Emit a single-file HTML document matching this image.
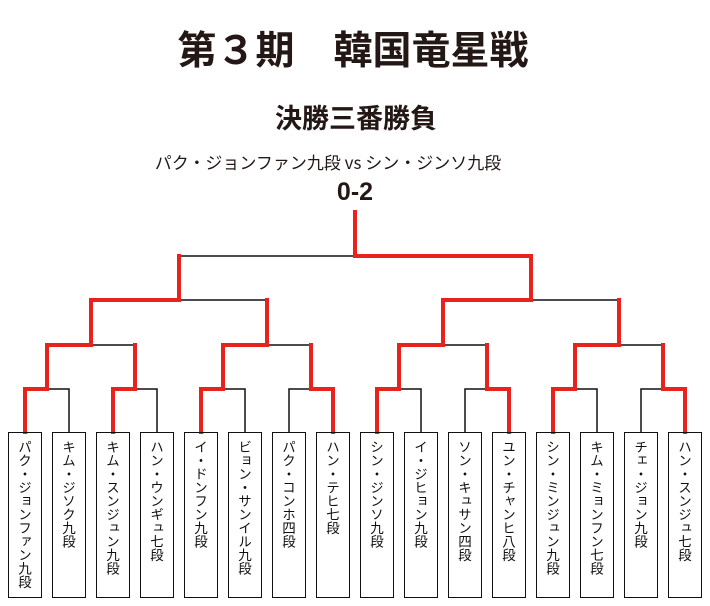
<!DOCTYPE html>
<html><head><meta charset="utf-8"><style>
html,body{margin:0;padding:0;background:#fff;}
body{width:710px;height:606px;position:relative;overflow:hidden;font-family:"Liberation Sans","Noto Sans CJK JP",sans-serif;color:#231815;}
.t{position:absolute;left:0;width:710px;text-align:center;white-space:nowrap;}
.box{position:absolute;top:432px;width:32px;height:164px;border:1.5px solid #111;box-sizing:content-box;}
.box span{position:absolute;top:7px;left:50%;transform:translateX(-50%);writing-mode:vertical-rl;font-size:13.5px;line-height:16px;color:#111;font-family:"Noto Sans CJK JP",sans-serif;}
svg{position:absolute;left:0;top:0;}
</style></head><body>
<div class="t" style="top:22px;font-size:39px;font-weight:bold;left:-2px;font-family:'Noto Sans CJK JP',sans-serif;line-height:52px;">第３期　韓国竜星戦</div>
<div class="t" style="top:99px;font-size:27px;font-weight:bold;left:1px;font-family:'Noto Sans CJK JP',sans-serif;line-height:36px;">決勝三番勝負</div>
<div class="t" style="top:150px;font-size:17px;left:-27px;font-family:'Noto Sans CJK JP',sans-serif;line-height:24px;">パク・ジョンファン九段 vs シン・ジンソ九段</div>
<div class="t" style="top:177px;font-size:25px;font-weight:bold;left:0px;line-height:30px;">0-2</div>
<svg width="710" height="606" viewBox="0 0 710 606">
<g stroke="#111" stroke-width="1.5" fill="none">
<path d="M25 432V389H69V432M113 432V389H157V432M201 432V389H245V432M289 432V389H333V432M377 432V389H421V432M465 432V389H509V432M553 432V389H597V432M641 432V389H685V432"/>
<path d="M47 389V345H135V389M223 389V345H311V389M399 389V345H487V389M575 389V345H663V389"/>
<path d="M91 345V300H267V345M443 345V300H619V345"/>
<path d="M179 300V256H531V300"/>
</g>
<g stroke="#e8221c" stroke-width="4" fill="none" stroke-linecap="square" stroke-linejoin="miter">
<path d="M25 432V389H47M113 432V389H135M201 432V389H223M333 432V389H311M377 432V389H399M509 432V389H487M553 432V389H575M685 432V389H663"/>
<path d="M47 389V345H91M135 389V345M223 389V345H267M311 389V345M399 389V345H443M487 389V345M575 389V345H619M663 389V345"/>
<path d="M91 345V300H179M267 345V300M443 345V300H531M619 345V300"/>
<path d="M179 300V256M531 300V256H355V212"/>
</g>
</svg>
<div class="box" style="left:8px"><span>パク・ジョンファン九段</span></div>
<div class="box" style="left:52px"><span>キム・ジソク九段</span></div>
<div class="box" style="left:96px"><span>キム・スンジュン九段</span></div>
<div class="box" style="left:140px"><span>ハン・ウンギュ七段</span></div>
<div class="box" style="left:184px"><span>イ・ドンフン九段</span></div>
<div class="box" style="left:228px"><span>ビョン・サンイル九段</span></div>
<div class="box" style="left:272px"><span>パク・コンホ四段</span></div>
<div class="box" style="left:316px"><span>ハン・テヒ七段</span></div>
<div class="box" style="left:360px"><span>シン・ジンソ九段</span></div>
<div class="box" style="left:404px"><span>イ・ジヒョン九段</span></div>
<div class="box" style="left:448px"><span>ソン・キュサン四段</span></div>
<div class="box" style="left:492px"><span>ユン・チャンヒ八段</span></div>
<div class="box" style="left:536px"><span>シン・ミンジュン九段</span></div>
<div class="box" style="left:580px"><span>キム・ミョンフン七段</span></div>
<div class="box" style="left:624px"><span>チェ・ジョン九段</span></div>
<div class="box" style="left:668px"><span>ハン・スンジュ七段</span></div>
</body></html>
